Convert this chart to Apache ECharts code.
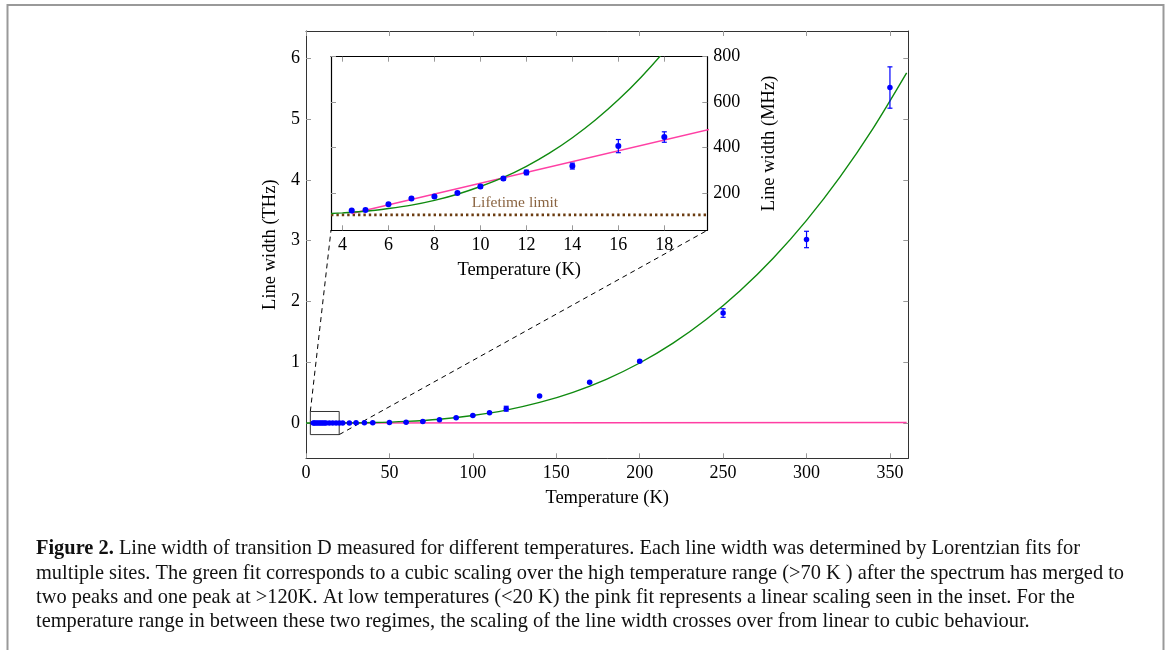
<!DOCTYPE html>
<html>
<head>
<meta charset="utf-8">
<script src="https://cdn.jsdelivr.net/npm/echarts@6/dist/echarts.min.js"></script>
<style>
html,body{margin:0;padding:0;background:#fff;}
#chart{width:1170px;height:650px;}
</style>
</head>
<body>
<div id="chart"></div>
<script>
// ---------- data ----------
const lowT        = [4.4, 5, 6, 7, 8, 9, 10, 11, 12, 14, 16, 18];
const lowWidthMHz = [122, 124, 150, 175, 184, 199, 228, 263, 290, 318, 406, 446];
const lowErrMHz   = [4, 4, 5, 5, 5, 5, 6, 7, 10, 13, 29, 23];

const highT        = [20, 22, 26, 30, 35, 40, 50, 60, 70, 80, 90, 100, 110, 120, 140, 170, 200, 250, 300, 350];
const highWidthTHz = [0.0005, 0.0007, 0.0015, 0.003, 0.004, 0.006, 0.009, 0.013, 0.027, 0.055, 0.088, 0.124, 0.17, 0.236, 0.445, 0.67, 1.016, 1.81, 3.02, 5.52];
const highErrTHz   = [0.001, 0.001, 0.001, 0.001, 0.001, 0.002, 0.002, 0.003, 0.004, 0.005, 0.006, 0.007, 0.01, 0.04, 0.01, 0.01, 0.015, 0.07, 0.135, 0.34];

// cubic fit (green)
const greenT   = [0, 20, 40, 60, 80, 100, 120, 140, 160, 180, 200, 220, 240, 260, 280, 300, 320, 340, 360];
const greenTHz = [0.0001, 0.001, 0.008, 0.027, 0.063, 0.124, 0.213, 0.339, 0.506, 0.72, 0.988, 1.315, 1.707, 2.171, 2.711, 3.335, 4.047, 4.854, 5.762];
const greenLowT   = [3.5, 4, 5, 6, 7, 8, 9, 10, 11, 12, 13, 14, 15, 16, 17, 18, 19];
const greenLowMHz = [109, 112, 119, 131, 146, 167, 194, 228, 268, 317, 375, 443, 521, 610, 711, 824, 951];

// linear fit (pink)
const pinkT   = [4.4, 360];
const pinkMHz = [109, 8570];

// lifetime limit
const lifetimeMHz = 103;
const lifetimeLabelT = 11.5;

// tick labels
const mainXTicks  = [0, 50, 100, 150, 200, 250, 300, 350];
const mainYTicks  = [0, 1, 2, 3, 4, 5, 6];
const insetXTicks = [4, 6, 8, 10, 12, 14, 16, 18];
const insetYTicks = [200, 400, 600, 800];

// axis ranges
const mainXRange  = [0, 361];
const mainYRange  = [-0.58, 6.45];
const insetXRange = [3.5, 19.87];
const insetYRange = [35, 800];

// zoom box on main plot
const boxT   = [2.6, 19.9];
const boxTHz = [-0.19, 0.19];

const captionLines = [
  '{b|Figure 2.} Line width of transition D measured for different temperatures. Each line width was determined by Lorentzian fits for',
  'multiple sites. The green fit corresponds to a cubic scaling over the high temperature range (>70 K ) after the spectrum has merged to',
  'two peaks and one peak at >120K. At low temperatures (<20 K) the pink fit represents a linear scaling seen in the inset. For the',
  'temperature range in between these two regimes, the scaling of the line width crosses over from linear to cubic behaviour.'
];

// ---------- chart ----------
const SERIF = '"Liberation Serif", "DejaVu Serif", serif';
const GREEN = '#0f8a0f';
const PINK  = '#ff3fa4';
const BLUE  = '#0000ff';
const BROWN = '#6b3c10';
const TICK  = '#999';
const FRAME = '#333';
const TICKFONT = 18;
const NAMEFONT = 18.5;
const CAPFONT = 20.4;

const toTHz = v => v / 1e6;
const mainPoints = lowT.map((t, i) => [t, toTHz(lowWidthMHz[i]), toTHz(lowErrMHz[i])])
  .concat(highT.map((t, i) => [t, highWidthTHz[i], highErrTHz[i]]));
const insetPoints = lowT.map((t, i) => [t, lowWidthMHz[i], lowErrMHz[i]]);

function errRender(color) {
  return function (params, api) {
    const x = api.value(0), y = api.value(1), e = api.value(2);
    const lo = api.coord([x, y - e]);
    const hi = api.coord([x, y + e]);
    const cw = 2.5;
    const st = { stroke: color, lineWidth: 1.2 };
    return {
      type: 'group',
      children: [
        { type: 'line', shape: { x1: lo[0], y1: lo[1], x2: hi[0], y2: hi[1] }, style: st },
        { type: 'line', shape: { x1: lo[0] - cw, y1: lo[1], x2: lo[0] + cw, y2: lo[1] }, style: st },
        { type: 'line', shape: { x1: hi[0] - cw, y1: hi[1], x2: hi[0] + cw, y2: hi[1] }, style: st }
      ]
    };
  };
}

function axisBase(extra) {
  return Object.assign({
    type: 'value',
    axisLine: { show: true, onZero: false, lineStyle: { color: FRAME, width: 1 } },
    splitLine: { show: false },
    axisTick: { show: true, inside: true, length: 5, lineStyle: { color: TICK, width: 1 } },
    axisLabel: { show: false }
  }, extra);
}

const chart = echarts.init(document.getElementById('chart'), null, { renderer: 'canvas' });

const option = {
  animation: false,
  backgroundColor: '#fff',
  grid: [
    { left: 306, top: 31, width: 602.3, height: 427.3, containLabel: false },
    { left: 331, top: 56.7, width: 376.3, height: 173.6, containLabel: false, show: true, backgroundColor: '#fff', borderWidth: 0, z: 5 }
  ],
  xAxis: [
    axisBase({ gridIndex: 0, position: 'bottom', min: mainXRange[0], max: mainXRange[1],
      axisTick: { show: true, inside: true, length: 5, lineStyle: { color: TICK }, customValues: mainXTicks },
      axisLabel: { show: true, customValues: mainXTicks, fontFamily: SERIF, fontSize: TICKFONT, color: '#000', margin: 6 },
      name: 'Temperature (K)', nameLocation: 'middle', nameGap: 30,
      nameTextStyle: { fontFamily: SERIF, fontSize: NAMEFONT, color: '#000' } }),
    axisBase({ gridIndex: 0, position: 'top', min: mainXRange[0], max: mainXRange[1],
      axisTick: { show: true, inside: true, length: 5, lineStyle: { color: TICK }, customValues: mainXTicks } }),
    axisBase({ gridIndex: 1, position: 'bottom', min: insetXRange[0], max: insetXRange[1], z: 6,
      axisLine: { show: true, onZero: false, lineStyle: { color: '#000', width: 1.2 } },
      axisTick: { show: true, inside: true, length: 5, lineStyle: { color: TICK }, customValues: insetXTicks },
      axisLabel: { show: true, customValues: insetXTicks, fontFamily: SERIF, fontSize: TICKFONT, color: '#000', margin: 6 },
      name: 'Temperature (K)', nameLocation: 'middle', nameGap: 30,
      nameTextStyle: { fontFamily: SERIF, fontSize: NAMEFONT, color: '#000' } }),
    axisBase({ gridIndex: 1, position: 'top', min: insetXRange[0], max: insetXRange[1], z: 6,
      axisLine: { show: true, onZero: false, lineStyle: { color: '#000', width: 1.2 } },
      axisTick: { show: true, inside: true, length: 5, lineStyle: { color: TICK }, customValues: insetXTicks } })
  ],
  yAxis: [
    axisBase({ gridIndex: 0, position: 'left', min: mainYRange[0], max: mainYRange[1],
      axisTick: { show: true, inside: true, length: 5, lineStyle: { color: TICK }, customValues: mainYTicks },
      axisLabel: { show: true, customValues: mainYTicks, fontFamily: SERIF, fontSize: TICKFONT, color: '#000', margin: 6 },
      name: 'Line width (THz)', nameLocation: 'middle', nameGap: 25, nameRotate: 90,
      nameTextStyle: { fontFamily: SERIF, fontSize: NAMEFONT, color: '#000' } }),
    axisBase({ gridIndex: 0, position: 'right', min: mainYRange[0], max: mainYRange[1],
      axisTick: { show: true, inside: true, length: 5, lineStyle: { color: TICK }, customValues: mainYTicks } }),
    axisBase({ gridIndex: 1, position: 'right', min: insetYRange[0], max: insetYRange[1], z: 6,
      axisLine: { show: true, onZero: false, lineStyle: { color: '#000', width: 1.2 } },
      axisTick: { show: true, inside: true, length: 5, lineStyle: { color: TICK }, customValues: insetYTicks },
      axisLabel: { show: true, customValues: insetYTicks, fontFamily: SERIF, fontSize: TICKFONT, color: '#000', margin: 6 },
      name: 'Line width (MHz)', nameLocation: 'middle', nameGap: 52, nameRotate: 90,
      nameTextStyle: { fontFamily: SERIF, fontSize: NAMEFONT, color: '#000' } }),
    axisBase({ gridIndex: 1, position: 'left', min: insetYRange[0], max: insetYRange[1], z: 6,
      axisLine: { show: true, onZero: false, lineStyle: { color: '#000', width: 1.2 } },
      axisTick: { show: true, inside: true, length: 5, lineStyle: { color: TICK }, customValues: insetYTicks } })
  ],
  series: [
    // ----- main plot -----
    { type: 'line', xAxisIndex: 0, yAxisIndex: 0, data: pinkT.map((t, i) => [t, toTHz(pinkMHz[i])]),
      showSymbol: false, lineStyle: { color: PINK, width: 1.6 }, z: 2 },
    { type: 'line', xAxisIndex: 0, yAxisIndex: 0, data: greenT.map((t, i) => [t, greenTHz[i]]),
      smooth: 0.3, showSymbol: false, lineStyle: { color: GREEN, width: 1.4 }, z: 3 },
    { type: 'line', xAxisIndex: 0, yAxisIndex: 0,
      data: [[boxT[0], boxTHz[0]], [boxT[1], boxTHz[0]], [boxT[1], boxTHz[1]], [boxT[0], boxTHz[1]], [boxT[0], boxTHz[0]]],
      showSymbol: false, lineStyle: { color: FRAME, width: 1 }, z: 3, clip: false },
    { type: 'custom', xAxisIndex: 0, yAxisIndex: 0, data: mainPoints, renderItem: errRender(BLUE), z: 4 },
    { type: 'scatter', xAxisIndex: 0, yAxisIndex: 0, data: mainPoints.map(p => [p[0], p[1]]),
      symbolSize: 5.5, itemStyle: { color: BLUE, opacity: 1 }, z: 5 },
    // ----- inset -----
    { type: 'line', xAxisIndex: 2, yAxisIndex: 2, data: [[insetXRange[0], lifetimeMHz], [insetXRange[1], lifetimeMHz]],
      showSymbol: false, lineStyle: { color: BROWN, width: 2.6, type: [2.4, 3] }, z: 10 },
    { type: 'scatter', xAxisIndex: 2, yAxisIndex: 2, data: [[lifetimeLabelT, lifetimeMHz]], symbolSize: 0, z: 10,
      label: { show: true, position: 'top', distance: 4, formatter: 'Lifetime limit',
        fontFamily: SERIF, fontSize: 15.5, color: BROWN }, silent: true },
    { type: 'line', xAxisIndex: 2, yAxisIndex: 2, data: pinkT.map((t, i) => [t, pinkMHz[i]]),
      showSymbol: false, lineStyle: { color: PINK, width: 1.4 }, z: 11 },
    { type: 'line', xAxisIndex: 2, yAxisIndex: 2, data: greenLowT.map((t, i) => [t, greenLowMHz[i]]),
      smooth: 0.3, showSymbol: false, lineStyle: { color: GREEN, width: 1.4 }, z: 11 },
    { type: 'custom', xAxisIndex: 2, yAxisIndex: 2, data: insetPoints, renderItem: errRender(BLUE), z: 12 },
    { type: 'scatter', xAxisIndex: 2, yAxisIndex: 2, data: insetPoints.map(p => [p[0], p[1]]),
      symbolSize: 6, itemStyle: { color: BLUE, opacity: 1 }, z: 13 }
  ]
};

chart.setOption(option);

// connectors from the zoom box to the inset corners + border + caption
const boxTL = chart.convertToPixel({ xAxisIndex: 0, yAxisIndex: 0 }, [boxT[0], boxTHz[1]]);
const boxBR = chart.convertToPixel({ xAxisIndex: 0, yAxisIndex: 0 }, [boxT[1], boxTHz[0]]);
const insBL = chart.convertToPixel({ xAxisIndex: 2, yAxisIndex: 2 }, [insetXRange[0], insetYRange[0]]);
const insBR = chart.convertToPixel({ xAxisIndex: 2, yAxisIndex: 2 }, [insetXRange[1], insetYRange[0]]);

const graphics = [
  { type: 'rect', shape: { x: 7.5, y: 5, width: 1156, height: 700 }, style: { fill: null, stroke: '#999', lineWidth: 2 }, z: 0, silent: true },
  { type: 'line', shape: { x1: boxTL[0], y1: boxTL[1], x2: insBL[0], y2: insBL[1] },
    style: { stroke: '#000', lineWidth: 1, lineDash: [5, 4] }, z: 3, silent: true },
  { type: 'line', shape: { x1: boxBR[0], y1: boxBR[1], x2: insBR[0], y2: insBR[1] },
    style: { stroke: '#000', lineWidth: 1, lineDash: [5, 4] }, z: 3, silent: true }
];
captionLines.forEach((line, i) => {
  graphics.push({
    type: 'text', left: 36, top: 539 + i * 24.3, z: 5, silent: true,
    style: {
      text: line, fill: '#111', fontFamily: SERIF, fontSize: CAPFONT,
      rich: { b: { fontFamily: SERIF, fontSize: CAPFONT, fontWeight: 'bold', fill: '#111' } }
    }
  });
});
chart.setOption({ graphic: graphics });
</script>
</body>
</html>
